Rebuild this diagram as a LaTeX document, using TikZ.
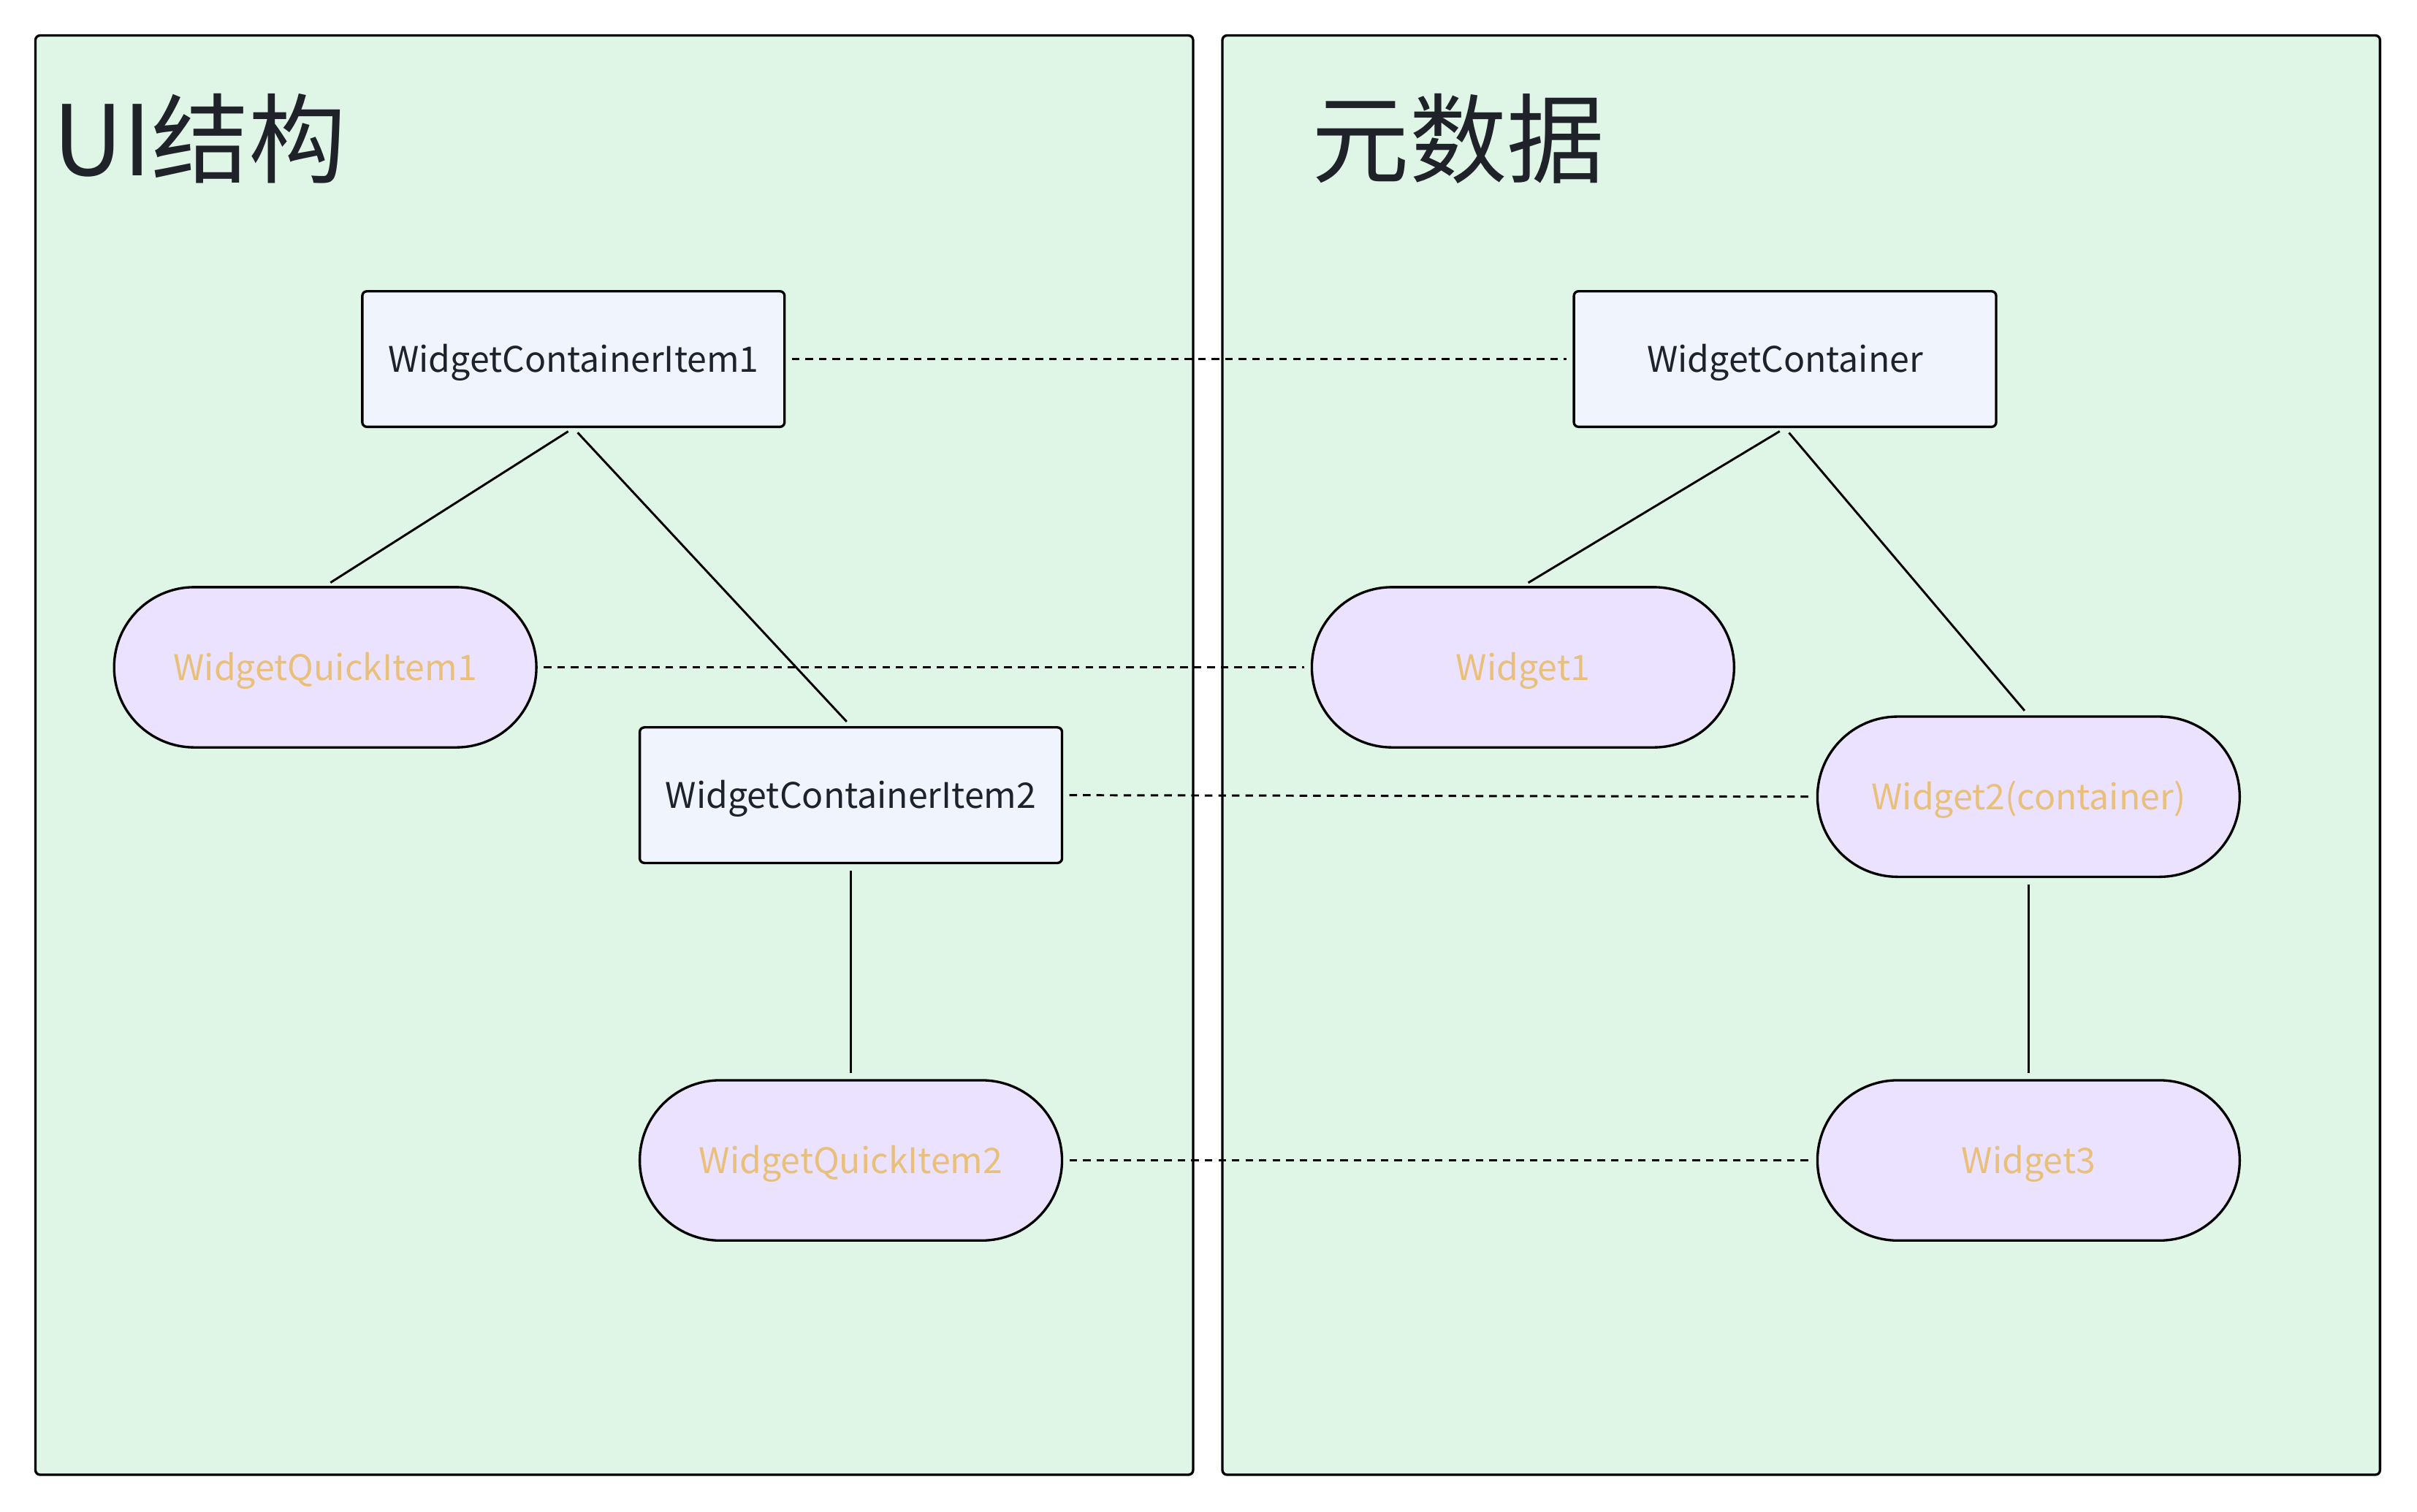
\documentclass[tikz,border=0pt]{standalone}
\usepackage{fontspec}
\setmainfont{Noto Sans CJK SC}
\usepackage{tikz}
\usetikzlibrary{calc}

\definecolor{clusterfill}{HTML}{DFF5E5}
\definecolor{boxfill}{HTML}{EFF4FD}
\definecolor{pillfill}{HTML}{EBE2FF}
\definecolor{pilltext}{HTML}{E8C07A}
\definecolor{inktext}{HTML}{1F2329}

\tikzset{
    cluster/.style={draw=black, fill=clusterfill, line width=0.9pt, rounded corners=0.06cm},
    title/.style={anchor=west, text=inktext, font=\fontsize{36}{40}\selectfont},
    itembox/.style={draw=black, fill=boxfill, line width=0.9pt, rounded corners=0.06cm,
        minimum width=5.48cm, minimum height=1.76cm, text=inktext,
        text height=1.15em, text depth=0.2em, font=\fontsize{13}{15}\selectfont},
    pill/.style={draw=black, fill=pillfill, line width=0.9pt, rounded corners=1.04cm,
        minimum width=5.48cm, minimum height=2.08cm, text=pilltext,
        text height=1.15em, text depth=0.2em, font=\fontsize{13}{15}\selectfont},
    tree/.style={line width=0.8pt, shorten >=0.08cm, shorten <=0.08cm},
    link/.style={line width=0.8pt, dash pattern=on 2.8pt off 2.2pt, shorten >=0.08cm, shorten <=0.08cm}
}

\begin{document}
\begin{tikzpicture}[x=0.02cm, y=-0.02cm]
    \useasboundingbox (0,0) rectangle (1568,981);

    % 1. The two clusters with their titles
    \draw[cluster] (23,23) rectangle (774,957);
    \draw[cluster] (793,23) rectangle (1544,957);
    \node[title] (ui) at (28,90) {UI结构};
    \node[title] (meta) at (845,90) {元数据};

    % 2. UI side
    \node[itembox] (wci1) at (372,233) {WidgetContainerItem1};
    \node[pill] (wqi1) at (211,433) {WidgetQuickItem1};
    \node[itembox] (wci2) at (552,516) {WidgetContainerItem2};
    \node[pill] (wqi2) at (552,753) {WidgetQuickItem2};

    % 3. Metadata side
    \node[itembox] (wc) at (1158,233) {WidgetContainer};
    \node[pill] (w1) at (988,433) {Widget1};
    \node[pill] (w2) at (1316,517) {Widget2(container)};
    \node[pill] (w3) at (1316,753) {Widget3};

    % 4. Tree lines
    \draw[tree] (wci1.south) -- (wqi1.north);
    \draw[tree] (wci1.south) -- (wci2.north);
    \draw[tree] (wci2.south) -- (wqi2.north);
    \draw[tree] (wc.south) -- (w1.north);
    \draw[tree] (wc.south) -- (w2.north);
    \draw[tree] (w2.south) -- (w3.north);

    % 5. Dotted links between both sides
    \draw[link] (wci1.east) -- (wc.west);
    \draw[link] (wqi1.east) -- (w1.west);
    \draw[link] (wci2.east) -- (w2.west);
    \draw[link] (wqi2.east) -- (w3.west);
\end{tikzpicture}
\end{document}
